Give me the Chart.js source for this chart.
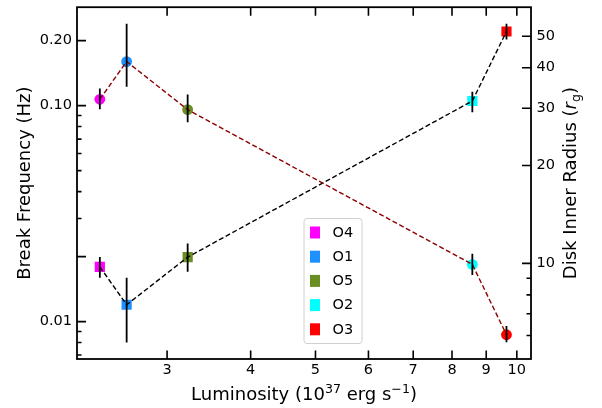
<!DOCTYPE html>
<html>
<head>
<meta charset="utf-8">
<script src="https://cdn.jsdelivr.net/npm/chart.js@4/dist/chart.umd.min.js"></script>
<style>
  html, body { margin: 0; padding: 0; background: #fff; }
  #wrap { width: 602px; height: 408px; }
</style>
</head>
<body>
<div id="wrap"><canvas id="c" width="602" height="408"></canvas></div>
<script>
// Observations, in order of increasing luminosity
const observations = ['O4', 'O1', 'O5', 'O2', 'O3'];
const obsColors = ['#ff00ff', '#1e90ff', '#6b8e23', '#00ffff', '#ff0000'];
const legendOrder = ['O4', 'O1', 'O5', 'O2', 'O3'];

// Luminosity in units of 1e37 erg/s
const luminosity = [2.38, 2.61, 3.22, 8.58, 9.65];

// Break frequency (Hz) with lower / upper error bounds
const breakFreq     = [0.107, 0.160, 0.0958, 0.0184, 0.00869];
const breakFreqLow  = [0.0962, 0.1223, 0.0838, 0.01644, 0.00803];
const breakFreqHigh = [0.120, 0.2396, 0.1127, 0.02059, 0.00955];

// Disk inner radius (r_g) with lower / upper error bounds
const innerRadius     = [9.76, 7.46, 10.45, 31.6, 51.7];
const innerRadiusLow  = [9.04, 5.71, 9.43, 29.17, 48.8];
const innerRadiusHigh = [10.47, 9.04, 11.51, 33.73, 54.6];

// Axis ticks
const lumTicks = [3, 4, 5, 6, 7, 8, 9, 10];
const freqTicks = [0.007, 0.008, 0.009, 0.01, 0.02, 0.03, 0.04, 0.05, 0.06, 0.07, 0.08, 0.09, 0.1, 0.2];
const freqLongTicks = [0.01, 0.02, 0.1, 0.2];
const freqLabelValues = [0.01, 0.1, 0.2];
const freqLabelTexts = ['0.01', '0.10', '0.20'];
const radiusTicks = [6, 7, 8, 9, 10, 20, 30, 40, 50];
const radiusLabelValues = [10, 20, 30, 40, 50];

const FONT = "'DejaVu Sans', sans-serif";
const near = (a, b) => Math.abs(a / b - 1) < 1e-6;

function pts(ys) { return luminosity.map((x, i) => ({ x: x, y: ys[i] })); }

// Text with super/subscripts drawn as a row of runs
function richWidth(ctx, parts, size) {
  let w = 0;
  for (const p of parts) {
    ctx.font = (p.it ? 'italic ' : '') + (size * (p.s || 1)) + 'px ' + FONT;
    w += ctx.measureText(p.t).width;
  }
  return w;
}
function drawRich(ctx, parts, size, x, y) {
  const w = richWidth(ctx, parts, size);
  let cx = x - w / 2;
  ctx.textAlign = 'left';
  ctx.textBaseline = 'alphabetic';
  for (const p of parts) {
    ctx.font = (p.it ? 'italic ' : '') + (size * (p.s || 1)) + 'px ' + FONT;
    ctx.fillText(p.t, cx, y + (p.dy || 0) * size);
    cx += ctx.measureText(p.t).width;
  }
}

// fixed axis band sizes, no extra label overhang padding
function fixSize(prop, value) {
  return s => {
    s[prop] = value;
    s.paddingTop = 0; s.paddingBottom = 0; s.paddingLeft = 0; s.paddingRight = 0;
  };
}

const decorations = {
  id: 'decorations',
  afterDatasetsDraw(chart) {
    const ctx = chart.ctx;
    const xs = chart.scales.x, yl = chart.scales.y, yr = chart.scales.y2;
    ctx.save();
    ctx.strokeStyle = '#000';
    ctx.lineWidth = 1.8;
    ctx.setLineDash([]);
    for (let i = 0; i < luminosity.length; i++) {
      const px = xs.getPixelForValue(luminosity[i]);
      ctx.beginPath();
      ctx.moveTo(px, yl.getPixelForValue(breakFreqLow[i]));
      ctx.lineTo(px, yl.getPixelForValue(breakFreqHigh[i]));
      ctx.moveTo(px, yr.getPixelForValue(innerRadiusLow[i]));
      ctx.lineTo(px, yr.getPixelForValue(innerRadiusHigh[i]));
      ctx.stroke();
    }
    ctx.restore();
  },
  afterDraw(chart) {
    const ctx = chart.ctx;
    const a = chart.chartArea;
    const xs = chart.scales.x, yl = chart.scales.y, yr = chart.scales.y2;
    ctx.save();
    // frame
    ctx.strokeStyle = '#000';
    ctx.lineWidth = 1.8;
    ctx.strokeRect(a.left, a.top, a.right - a.left, a.bottom - a.top);
    // inward tick marks
    ctx.lineWidth = 1.6;
    ctx.beginPath();
    for (const v of lumTicks) {
      const px = xs.getPixelForValue(v);
      ctx.moveTo(px, a.bottom); ctx.lineTo(px, a.bottom - 8.5);
      ctx.moveTo(px, a.top); ctx.lineTo(px, a.top + 8.5);
    }
    for (const v of freqTicks) {
      const py = yl.getPixelForValue(v);
      const len = freqLongTicks.some(t => near(v, t)) ? 9 : 4.5;
      ctx.moveTo(a.left, py); ctx.lineTo(a.left + len, py);
    }
    for (const v of radiusTicks) {
      const py = yr.getPixelForValue(v);
      const len = radiusLabelValues.includes(v) ? 9 : 4.5;
      ctx.moveTo(a.right, py); ctx.lineTo(a.right - len, py);
    }
    ctx.stroke();

    // legend
    const lx = 304, ly = 218.5, lw = 58, lh = 125, r = 3;
    ctx.beginPath();
    ctx.moveTo(lx + r, ly);
    ctx.arcTo(lx + lw, ly, lx + lw, ly + lh, r);
    ctx.arcTo(lx + lw, ly + lh, lx, ly + lh, r);
    ctx.arcTo(lx, ly + lh, lx, ly, r);
    ctx.arcTo(lx, ly, lx + lw, ly, r);
    ctx.closePath();
    ctx.fillStyle = 'rgba(255,255,255,0.8)';
    ctx.fill();
    ctx.strokeStyle = '#d0d0d0';
    ctx.lineWidth = 1;
    ctx.stroke();
    ctx.font = '14.5px ' + FONT;
    ctx.textAlign = 'left';
    ctx.textBaseline = 'middle';
    legendOrder.forEach((name, k) => {
      const cy = 232.5 + k * 24.2;
      ctx.fillStyle = obsColors[observations.indexOf(name)];
      ctx.fillRect(310, cy - 6, 10, 12);
      ctx.fillStyle = '#000';
      ctx.fillText(name, 332.5, cy + 0.5);
    });

    // axis titles
    ctx.fillStyle = '#000';
    const size = 18;
    drawRich(ctx, [
      { t: 'Luminosity (10' }, { t: '37', s: 0.7, dy: -0.4 },
      { t: ' erg s' }, { t: '\u22121', s: 0.7, dy: -0.4 }, { t: ')' }
    ], size, (a.left + a.right) / 2, 400);

    const midY = (a.top + a.bottom) / 2;
    ctx.save();
    ctx.translate(30, midY);
    ctx.rotate(-Math.PI / 2);
    drawRich(ctx, [{ t: 'Break Frequency (Hz)' }], size, 0, 0);
    ctx.restore();

    ctx.save();
    ctx.translate(576, midY);
    ctx.rotate(-Math.PI / 2);
    drawRich(ctx, [
      { t: 'Disk Inner Radius (' }, { t: 'r', it: true },
      { t: 'g', s: 0.7, dy: 0.22 }, { t: ')' }
    ], size, 0, 0);
    ctx.restore();
    ctx.restore();
  }
};

const tickFont = { family: FONT, size: 14.5 };

new Chart(document.getElementById('c'), {
  type: 'scatter',
  data: {
    datasets: [
      {
        label: 'Break frequency line',
        data: pts(breakFreq), yAxisID: 'y', showLine: true,
        borderColor: '#8b0000', borderWidth: 1.4, borderDash: [5, 2.6],
        pointRadius: 0, fill: false, order: 1
      },
      {
        label: 'Inner radius line',
        data: pts(innerRadius), yAxisID: 'y2', showLine: true,
        borderColor: '#000000', borderWidth: 1.4, borderDash: [5, 2.6],
        pointRadius: 0, fill: false, order: 1
      },
      {
        label: 'Break frequency',
        data: pts(breakFreq), yAxisID: 'y', showLine: false,
        pointStyle: 'circle', pointRadius: 5.4, pointHoverRadius: 5.4,
        pointBackgroundColor: obsColors, pointBorderWidth: 0, order: 3
      },
      {
        label: 'Inner radius',
        data: pts(innerRadius), yAxisID: 'y2', showLine: false,
        pointStyle: 'rect', pointRadius: 7.2, pointHoverRadius: 7.2,
        pointBackgroundColor: obsColors, pointBorderWidth: 0, order: 3
      }
    ]
  },
  options: {
    responsive: false,
    animation: false,
    devicePixelRatio: 1,
    events: [],
    layout: { padding: { top: 0.5, left: 0, right: 0, bottom: 0 } },
    plugins: { legend: { display: false }, tooltip: { enabled: false } },
    scales: {
      x: {
        type: 'logarithmic', position: 'bottom', min: 2.204, max: 10.5,
        grid: { display: false, drawTicks: false }, border: { display: false },
        ticks: {
          font: tickFont, color: '#000', padding: 3, autoSkip: false, maxRotation: 0, minRotation: 0,
          callback: v => lumTicks.includes(v) ? String(v) : ''
        },
        afterBuildTicks: s => { s.ticks = lumTicks.map(v => ({ value: v })); },
        afterFit: fixSize('height', 49)
      },
      y: {
        type: 'logarithmic', position: 'left', min: 0.00671, max: 0.2857,
        grid: { display: false, drawTicks: false }, border: { display: false },
        ticks: {
          font: tickFont, color: '#000', padding: 5, autoSkip: false,
          callback: v => {
            const k = freqLabelValues.findIndex(t => near(v, t));
            return k >= 0 ? freqLabelTexts[k] : '';
          }
        },
        afterBuildTicks: s => { s.ticks = freqTicks.map(v => ({ value: v })); },
        afterFit: fixSize('width', 77)
      },
      y2: {
        type: 'logarithmic', position: 'right', min: 5.08, max: 61.4,
        grid: { display: false, drawTicks: false }, border: { display: false },
        ticks: {
          font: tickFont, color: '#000', padding: 5.5, autoSkip: false,
          callback: v => radiusLabelValues.includes(v) ? String(v) : ''
        },
        afterBuildTicks: s => { s.ticks = radiusTicks.map(v => ({ value: v })); },
        afterFit: fixSize('width', 71)
      }
    }
  },
  plugins: [decorations]
});
</script>
</body>
</html>
